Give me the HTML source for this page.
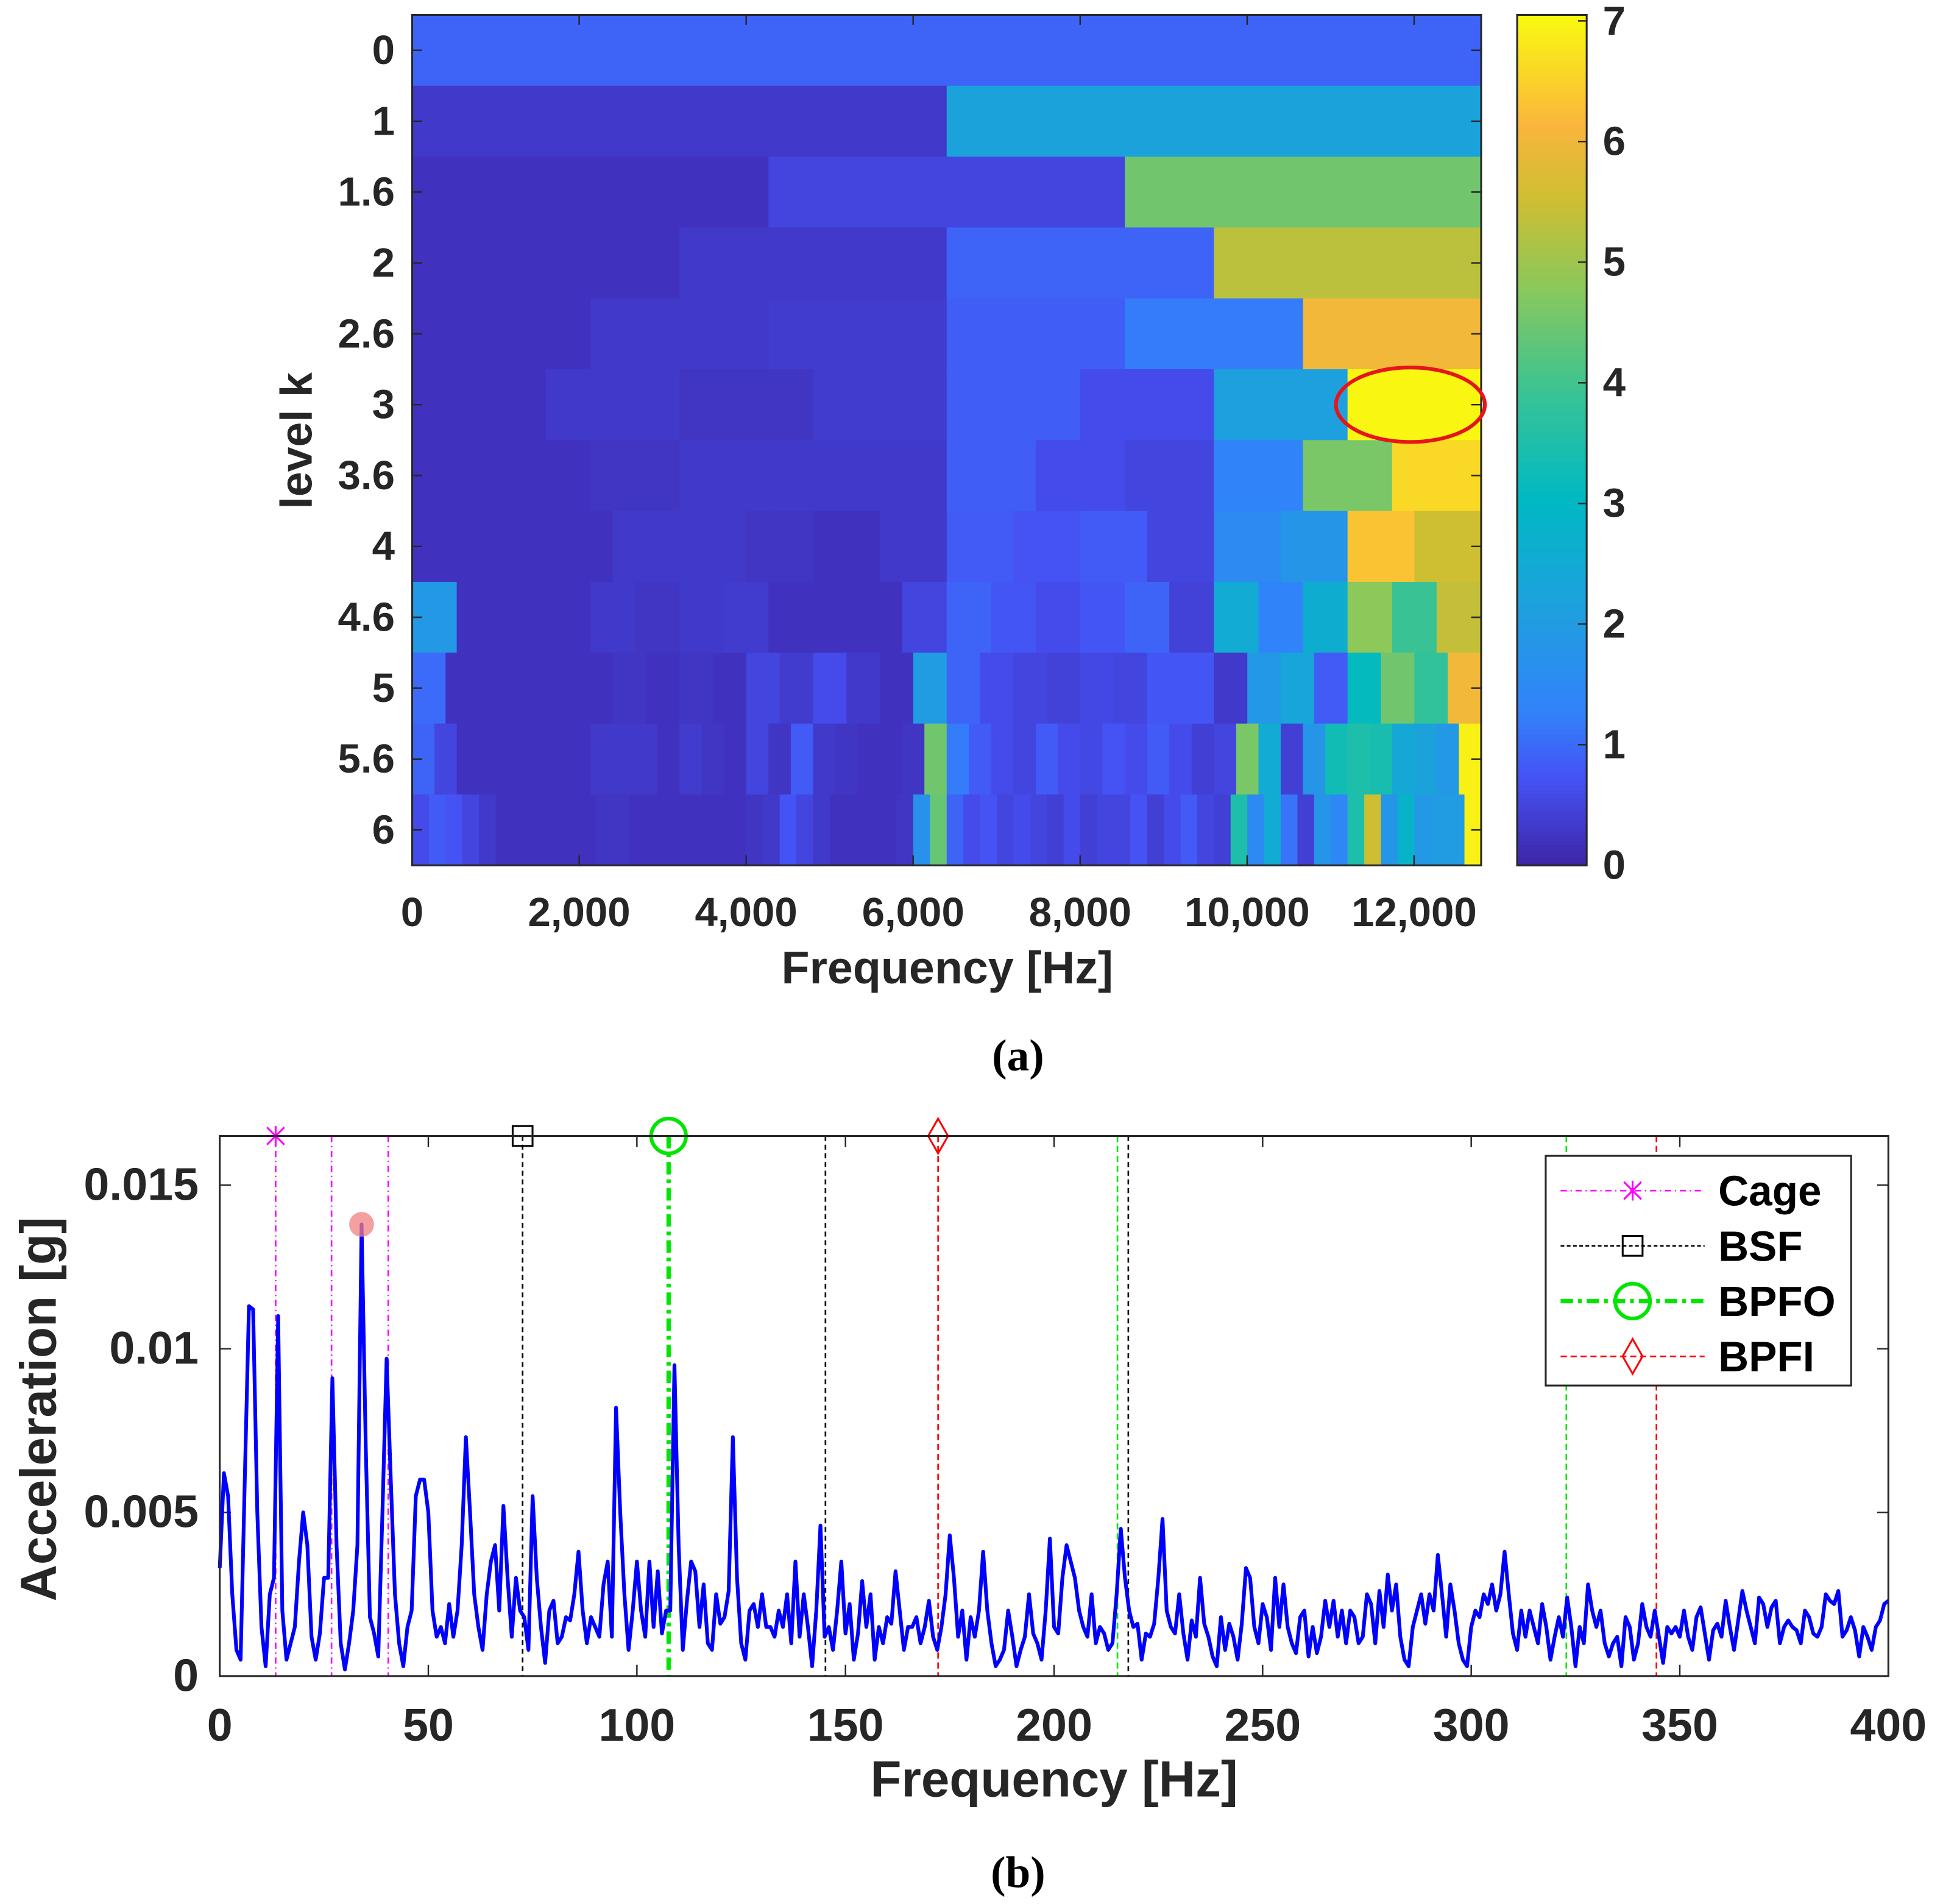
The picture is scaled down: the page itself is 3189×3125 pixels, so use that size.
<!DOCTYPE html>
<html><head><meta charset="utf-8">
<style>
html,body{margin:0;padding:0;background:#fff;}
svg{display:block;}
text{font-family:"Liberation Sans",Arial,sans-serif;font-weight:bold;fill:#262626;}
</style></head>
<body>
<svg id="fig" xmlns="http://www.w3.org/2000/svg" width="3189" height="3125" viewBox="0 0 1565 1533.6" preserveAspectRatio="none">
<g id="heat"></g>
<g id="cbar"></g>
<g id="spec"></g>
</svg>
<script>
// ---------- Kurtogram data ----------
const levelLabels = ["0","1","1.6","2","2.6","3","3.6","4","4.6","5","5.6","6"];
const row0 = [0.9];
const row1 = [0.3,2.2];
const row16 = [0.2,0.5,4.5];
const row2 = [0.2,0.3,0.9,5.3];
const row26 = [0.2,0.3,0.35,0.85,1.2,6.0];
const row3 = [0.2,0.3,0.25,0.35,0.85,0.6,2.1,7.0];
const row36 = [0.2,0.2,0.25,0.3,0.3,0.3,0.85,0.6,0.5,1.3,4.6,6.6];
const row4 = [0.2,0.2,0.2,0.3,0.3,0.25,0.2,0.3,0.8,0.7,0.8,0.5,1.5,1.8,6.3,5.5];
const row46 = [1.9,0.2,0.2,0.2,0.3,0.25,0.3,0.35,0.2,0.2,0.2,0.5,0.9,0.75,0.6,0.75,0.9,0.45,2.5,1.3,2.6,4.8,3.9,5.4];
const row5 = [1.0,0.2,0.2,0.2,0.2,0.2,0.25,0.2,0.25,0.2,0.5,0.35,0.6,0.3,0.2,2.0,0.9,0.6,0.5,0.45,0.55,0.5,0.75,0.75,0.3,1.9,2.3,0.8,3.1,4.5,3.8,6.0];
const row56 = [0.9,0.5,0.2,0.2,0.2,0.2,0.2,0.2,0.3,0.3,0.3,0.2,0.35,0.25,0.2,0.5,0.25,0.8,0.3,0.25,0.2,0.2,0.25,4.5,1.2,0.8,0.6,0.5,0.8,0.6,0.55,0.7,0.6,0.8,0.6,0.4,0.5,4.6,2.5,0.4,1.8,3.3,3.5,3.4,2.4,2.2,1.9,6.9];
const row6 = [0.6,0.8,0.7,0.5,0.3,0.2,0.2,0.2,0.2,0.2,0.2,0.25,0.25,0.2,0.2,0.2,0.2,0.2,0.2,0.2,0.25,0.3,0.7,0.5,0.3,0.2,0.2,0.2,0.2,0.25,1.7,4.4,0.9,0.6,0.7,0.5,0.6,0.5,0.4,0.6,0.4,0.5,0.5,0.7,0.4,0.6,0.8,0.5,0.4,3.5,1.5,2.5,1.1,0.4,1.8,1.4,3.5,5.5,1.8,2.8,1.9,2.0,2.0,6.9];
const heatRows = [row0,row1,row16,row2,row26,row3,row36,row4,row46,row5,row56,row6];
const freqTicks = [0,2000,4000,6000,8000,10000,12000];
const cbarTicks = [0,1,2,3,4,5,6,7];

// ---------- Spectrum data (units of 0.001 g), 1 Hz steps 0..400 ----------
const specFreqStep = 1;
const specValues = [3.3,6.2,5.5,2.5,0.8,0.5,6,11.3,11.2,5,1.5,0.3,2.5,3,11,2,0.5,1,1.5,3.5,5,4,1.2,0.5,1.3,3,3,9.1,4,1,0.2,1,2,4,13.8,7,1.8,1.3,0.6,5,9.7,6,2.5,1,0.3,1.5,2,5.5,6,6,5,
2,1.2,1.5,1,2.2,1.2,2,4,7.3,5,2.5,1.5,0.8,2.5,3.5,4,2,5.2,3,1.2,3,2,1.8,0.8,5.5,3,1.5,0.4,2,2.3,1,1.2,1.8,1.7,2.5,3.8,2,1,1.8,1.5,1.2,2.8,3.5,1.2,8.2,5,2.5,0.8,2,3.5,
2,1.2,3.5,1.5,3.2,1.3,2,2,9.5,4,0.8,2.3,3.5,3.2,1.5,2.8,1,0.8,2.5,1.6,1.8,2.6,7.3,3,1,0.5,2,2.2,1.5,2.5,1.5,1.5,1.2,2,1.5,2.5,1,3.5,1.2,2.5,1.5,0.3,2,4.6,1.2,1.5,0.8,2,3.5,1.3,
2.2,0.5,1.3,2.9,1.5,2.5,0.5,1.5,1,1.8,1.6,3.2,2,0.8,1.5,1.5,1.8,1,1.5,2.3,1.2,0.8,1.5,2.5,4.3,3,1.2,2,0.5,1.8,1.2,2,3.8,2,1,0.3,0.5,0.8,2,1.2,0.3,0.8,1.2,2.5,1.3,1,0.5,2,4.2,1.5,
1.3,3,4,3.5,3,2,1.5,1.2,2.5,1,1.5,1.3,0.8,1,2.5,4.5,3,2,1.5,1.6,0.5,1.3,1.2,1.6,3,4.8,2,1.5,1.3,2.5,1.3,0.5,1.7,1.2,3,1.6,1.2,0.6,0.3,1.8,0.8,1.6,1.2,0.5,1.6,3.3,3,1.5,1,2.2,
1.8,0.8,3,1.5,2.8,1.5,1,0.7,1.8,2,0.6,1.5,0.7,1.2,2.3,1.5,2.3,1.2,2,1,2,1.8,1,1.2,2.5,2.2,1,2.6,1.5,3.1,2,2.8,1.2,0.5,0.3,1.5,2,2.5,1.6,2.5,2,3.7,2.5,1.2,2.8,2,1,0.5,0.3,1.5,
2,1.8,2.5,2.2,2.8,2,2.5,3.8,2.5,1.3,0.8,2,1.2,2,1.5,1,2.2,1.5,0.5,1.2,1.8,1.2,2.4,1.5,0.3,1.5,1,2.8,2,1.5,2,1,0.6,1,1.2,0.3,1.8,1.5,0.5,1,2.2,1.5,1.2,2,1.2,0.4,1.5,1.3,1.5,1.2,
2,1.2,0.8,1.8,2.1,1.3,0.5,1.4,1.6,1.2,2.3,1.5,0.8,1.7,2.6,2,1.5,1,2.4,2.2,1.5,2.1,2.3,1,1.5,1.7,1.5,1.4,1,2,1.8,1.3,1.2,1.5,2.5,2.3,2.2,2.6,1.2,1.4,1.8,1.4,0.6,1.5,1.2,0.8,1.5,1.7,2.2,2.3];
const xTicksB = [0,50,100,150,200,250,300,350,400];
const yTicksB = [0,0.005,0.01,0.015];
const yTickLabelsB = ["0","0.005","0.01","0.015"];
const cageFreqs = [13.4,26.8,40.4];
const bsfFreqs = [72.6,145.2,217.8];
const bpfoFreqs = [107.6,215.2,322.8];
const bpfiFreqs = [172.2,344.4];
const peakFreq = [34];
const peakVal = [0.0138];

const NS="http://www.w3.org/2000/svg";
function mk(tag,attrs,parent,txt){const e=document.createElementNS(NS,tag);for(const k in attrs)e.setAttribute(k,attrs[k]);if(txt!==undefined)e.textContent=txt;parent.appendChild(e);return e;}

const stops=[[0,62,38,168],[0.1,69,82,245],[0.18,50,130,250],[0.3,30,160,222],[0.43,0,185,195],[0.55,55,195,150],[0.68,140,200,90],[0.78,205,190,50],[0.87,250,182,60],[1,249,251,14]];
function parula(t){t=Math.max(0,Math.min(1,t));for(let i=1;i<stops.length;i++){if(t<=stops[i][0]){const a=stops[i-1],b=stops[i],f=(t-a[0])/(b[0]-a[0]);return `rgb(${Math.round(a[1]+f*(b[1]-a[1]))},${Math.round(a[2]+f*(b[2]-a[2]))},${Math.round(a[3]+f*(b[3]-a[3]))})`;}}return 'rgb(249,251,14)';}
const VMAX=7.05;

// ---------- Heatmap ----------
const H=document.getElementById('heat');
const hx0=332,hx1=1193,hy0=12,hy1=697;
const fMax=12803;
const fx=f=>hx0+f/fMax*(hx1-hx0);
const rowH=(hy1-hy0)/heatRows.length;
heatRows.forEach((row,r)=>{
  const w=(hx1-hx0)/row.length;
  row.forEach((v,i)=>{
    const c=mk('rect',{x:hx0+i*w,y:hy0+r*rowH,width:w+0.6,height:rowH+0.6,fill:parula(v/VMAX)},H);
    
    
  });
});
let fr=mk('rect',{x:hx0,y:hy0,width:hx1-hx0,height:hy1-hy0,fill:'none',stroke:'#262626','stroke-width':1.5},H);

levelLabels.forEach((l,r)=>{
  const y=hy0+(r+0.5)*rowH;
  mk('line',{x1:hx0,x2:hx0+8,y1:y,y2:y,stroke:'#262626','stroke-width':1.2},H);
  mk('line',{x1:hx1,x2:hx1-8,y1:y,y2:y,stroke:'#262626','stroke-width':1.2},H);
  const t=mk('text',{x:hx0-14,y:y+11,'text-anchor':'end','font-size':33},H,l);
  
});
freqTicks.forEach(f=>{
  const x=fx(f);
  mk('line',{x1:x,x2:x,y1:hy1,y2:hy1-8,stroke:'#262626','stroke-width':1.2},H);
  mk('line',{x1:x,x2:x,y1:hy0,y2:hy0+8,stroke:'#262626','stroke-width':1.2},H);
  const t=mk('text',{x:x,y:746,'text-anchor':'middle','font-size':33},H,f.toLocaleString('en-US'));
  
});
let t1=mk('text',{x:763,y:792,'text-anchor':'middle','font-size':37},H,'Frequency [Hz]');

let t2=mk('text',{x:0,y:0,'text-anchor':'middle','font-size':36,transform:'translate(251,355) rotate(-90)'},H,'level k');

let el=mk('ellipse',{cx:1136,cy:326,rx:60,ry:30,fill:'none',stroke:'#e8141c','stroke-width':3},H);

let ca=mk('text',{x:820,y:862,'text-anchor':'middle','font-size':36,style:'font-family:"Liberation Serif",serif;font-weight:bold;fill:#000'},H,'(a)');


// ---------- Colorbar ----------
const C=document.getElementById('cbar');
const cx0=1222,cx1=1278;
for(let i=0;i<200;i++){
  const v0=i/200*VMAX;
  mk('rect',{x:cx0,y:hy1-(i+1)*(hy1-hy0)/200,width:cx1-cx0,height:(hy1-hy0)/200+0.8,fill:parula(v0/VMAX)},C);
}
mk('rect',{x:cx0,y:hy0,width:cx1-cx0,height:hy1-hy0,fill:'none',stroke:'#262626','stroke-width':1.5},C);
cbarTicks.forEach(v=>{
  const y=hy1-v/VMAX*(hy1-hy0);
  mk('line',{x1:cx1,x2:cx1-7,y1:y,y2:y,stroke:'#262626','stroke-width':1.2},C);
  const t=mk('text',{x:1291,y:y+11,'font-size':33},C,String(v));
  
});

// ---------- Spectrum ----------
const S=document.getElementById('spec');
const bx0=177,bx1=1521,by0=915,by1=1350,yMax=0.0165;
const sx=f=>bx0+f/400*(bx1-bx0);
const sy=v=>by1-v/yMax*(by1-by0);
mk('rect',{x:bx0,y:by0,width:bx1-bx0,height:by1-by0,fill:'#fff'},S);
xTicksB.forEach(f=>{
  const x=sx(f);
  mk('line',{x1:x,x2:x,y1:by1,y2:by1-9,stroke:'#262626','stroke-width':1.2},S);
  mk('line',{x1:x,x2:x,y1:by0,y2:by0+9,stroke:'#262626','stroke-width':1.2},S);
  const t=mk('text',{x:x,y:1402,'text-anchor':'middle','font-size':37},S,String(f));
  
});
yTicksB.forEach((v,i)=>{
  const y=sy(v);
  mk('line',{x1:bx0,x2:bx0+9,y1:y,y2:y,stroke:'#262626','stroke-width':1.2},S);
  mk('line',{x1:bx1,x2:bx1-9,y1:y,y2:y,stroke:'#262626','stroke-width':1.2},S);
  const t=mk('text',{x:160,y:y+12,'text-anchor':'end','font-size':37},S,yTickLabelsB[i]);
  
});
function vline(f,color,dash,w){mk('line',{x1:sx(f),x2:sx(f),y1:by0,y2:by1,stroke:color,'stroke-width':w,'stroke-dasharray':dash},S);}
cageFreqs.forEach(f=>vline(f,'#ff00ff','5,3,1,3',1.3));
bsfFreqs.forEach(f=>vline(f,'#000','4,3',1.3));
bpfoFreqs.forEach((f,i)=>vline(f,'#00e600',i===0?'10,4,3,4':'5,3',i===0?3.5:1.3));
bpfiFreqs.forEach(f=>vline(f,'#ff0000','5,3',1.3));
let d='';specValues.forEach((v,i)=>{d+=(i?'L':'M')+sx(i*specFreqStep).toFixed(2)+','+sy(v/1000).toFixed(2);});
let ln=mk('path',{d:d,fill:'none',stroke:'#0000ff','stroke-width':3,'stroke-linejoin':'round'},S);

let pk=mk('circle',{cx:sx(peakFreq[0]),cy:sy(peakVal[0]),r:10,fill:'#f08080','fill-opacity':0.75},S);

function markerAt(type,x,y,g){
  if(type==='x'){mk('path',{d:`M${x-7},${y-7}L${x+7},${y+7}M${x-7},${y+7}L${x+7},${y-7}M${x},${y-8}L${x},${y+8}`,stroke:'#ff00ff','stroke-width':1.5,fill:'none'},g);}
  if(type==='sq'){mk('rect',{x:x-8,y:y-8,width:16,height:16,fill:'none',stroke:'#000','stroke-width':1.5},g);}
  if(type==='o'){mk('circle',{cx:x,cy:y,r:14,fill:'none',stroke:'#00e600','stroke-width':3},g);}
  if(type==='d'){mk('path',{d:`M${x},${y-14}L${x+8},${y}L${x},${y+14}L${x-8},${y}Z`,fill:'none',stroke:'#ff0000','stroke-width':1.5},g);}
}
markerAt('x',sx(cageFreqs[0]),by0,S);
markerAt('sq',sx(bsfFreqs[0]),by0,S);
markerAt('o',sx(bpfoFreqs[0]),by0,S);
markerAt('d',sx(bpfiFreqs[0]),by0,S);
mk('rect',{x:bx0,y:by0,width:bx1-bx0,height:by1-by0,fill:'none',stroke:'#262626','stroke-width':1.5},S);
const L=mk('g',{},S);

mk('rect',{x:1245,y:931,width:246,height:185,fill:'#fff',stroke:'#262626','stroke-width':1.5},L);
const legItems=[['Cage','#ff00ff','x','5,3,1,3',1.3],['BSF','#000','sq','3,2',1.3],['BPFO','#00e600','o','10,4,3,4',3.5],['BPFI','#ff0000','d','5,3',1.3]];
legItems.forEach((it,i)=>{
  const y=959+i*44.5;
  const g=mk('g',{},L);
  
  
  mk('line',{x1:1257,x2:1373,y1:y,y2:y,stroke:it[1],'stroke-width':it[4],'stroke-dasharray':it[3]},g);
  markerAt(it[2],1315,y,g);
  mk('text',{x:1384,y:y+12,'font-size':34,style:'fill:#000'},g,it[0]);
});
let bx=mk('text',{x:849,y:1447,'text-anchor':'middle','font-size':41},S,'Frequency [Hz]');

let by=mk('text',{x:0,y:0,'text-anchor':'middle','font-size':41,transform:'translate(45,1135) rotate(-90)'},S,'Acceleration [g]');

let cb=mk('text',{x:820,y:1520,'text-anchor':'middle','font-size':36,style:'font-family:"Liberation Serif",serif;font-weight:bold;fill:#000'},S,'(b)');

</script>
</body></html>
